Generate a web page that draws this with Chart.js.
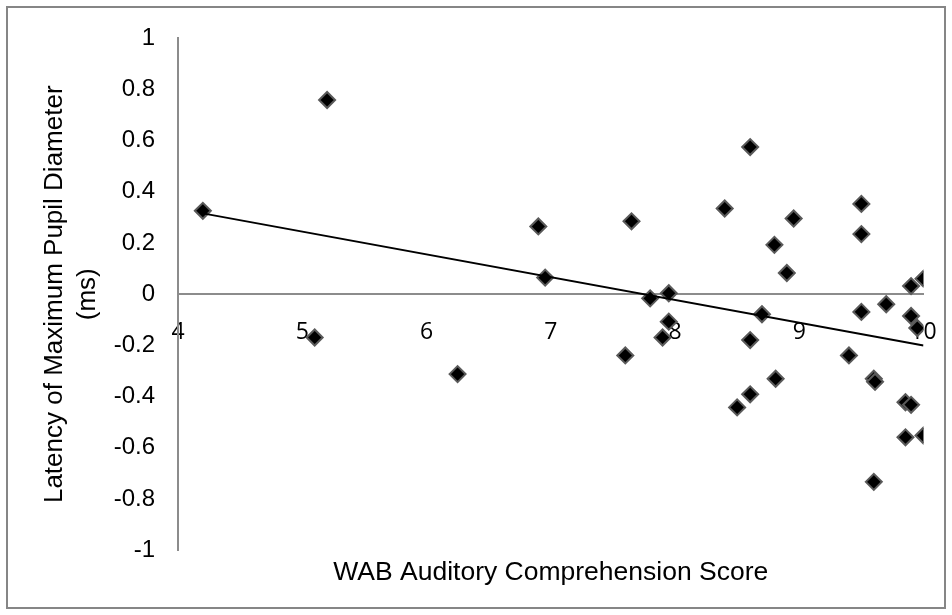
<!DOCTYPE html>
<html>
<head>
<meta charset="utf-8">
<script src="https://cdn.jsdelivr.net/npm/chart.js@4.4.0/dist/chart.umd.min.js"></script>
<style>
  html, body { margin: 0; padding: 0; background: #fff; }
  #wrap { position: relative; width: 952px; height: 615px; }
  #frame { position: absolute; left: 6px; top: 6px; width: 940px; height: 603px; box-sizing: border-box; border: 2px solid #868686; }
  canvas { position: absolute; left: 0; top: 0; }
</style>
</head>
<body>
<div id="wrap">
  <div id="frame"></div>
  <canvas id="chart" width="952" height="615"></canvas>
</div>
<script>
// WAB score vs latency
const wabScores = [
    4.2, 5.2, 6.9, 6.955, 5.1, 6.25, 7.65, 8.605, 8.4, 8.955,
    8.8, 8.9, 9.5, 9.5, 10.0, 9.9, 7.8, 7.95, 7.95, 7.9,
    7.6, 8.7, 8.605, 8.81, 8.605, 8.5, 9.5, 9.7, 9.9, 9.95,
    9.4, 9.6, 9.61, 9.855, 9.9, 9.855, 10.0, 9.6
];
const latencies = [
    0.326, 0.759, 0.265, 0.065, -0.169, -0.312, 0.285, 0.575, 0.335, 0.296,
    0.193, 0.083, 0.353, 0.235, 0.061, 0.032, -0.016, 0.004, -0.107, -0.169,
    -0.239, -0.078, -0.179, -0.33, -0.391, -0.442, -0.069, -0.039, -0.085, -0.132,
    -0.239, -0.33, -0.342, -0.422, -0.432, -0.559, -0.552, -0.733
];

// linear trendline end points
const trendX = [4.2, 10.0];
const trendY = [0.316, -0.2];

const xTicks = [4, 5, 6, 7, 8, 9, 10];
const yTicks = [-1, -0.8, -0.6, -0.4, -0.2, 0, 0.2, 0.4, 0.6, 0.8, 1];

const xTitle = 'WAB Auditory Comprehension Score';
const yTitle = ['Latency of Maximum Pupil Diameter', '(ms)'];

const points = wabScores.map((x, i) => ({ x: x, y: latencies[i] }));
const trend = trendX.map((x, i) => ({ x: x, y: trendY[i] }));

const axisGray = '#8c8c8c';

new Chart(document.getElementById('chart'), {
    type: 'scatter',
    data: {
        datasets: [
            {
                type: 'line',
                data: trend,
                borderColor: '#000',
                borderWidth: 2,
                pointRadius: 0,
                fill: false,
                order: 0
            },
            {
                data: points,
                pointStyle: 'rectRot',
                pointRadius: 8,
                pointHoverRadius: 8,
                backgroundColor: '#000',
                borderColor: '#5a5a5a',
                borderWidth: 2,
                order: 1
            }
        ]
    },
    options: {
        responsive: false,
        devicePixelRatio: 1,
        animation: false,
        layout: { padding: { left: 0, right: 28.5, top: 38.3, bottom: 0 } },
        plugins: {
            legend: { display: false },
            tooltip: { enabled: false },
            title: {
                display: true,
                fullSize: false,
                position: 'bottom',
                text: xTitle,
                color: '#000',
                font: { family: 'Liberation Sans, Arial', size: 26.5, weight: 'normal', lineHeight: 1.2 },
                padding: { top: 7, bottom: 26 }
            }
        },
        scales: {
            x: {
                type: 'linear',
                position: { y: 0 },
                min: 4,
                max: 10,
                afterBuildTicks: (axis) => { axis.ticks = xTicks.map(v => ({ value: v })); },
                // labels hang below the zero line, they should not shrink the plot
                afterFit: (axis) => { axis.paddingLeft = 0; axis.paddingRight = 0; },
                grid: { display: false, drawTicks: false },
                border: { display: true, color: axisGray, width: 2 },
                ticks: {
                    color: '#000',
                    padding: 24,
                    maxRotation: 0,
                    font: { family: 'Open Sans', size: 23 }
                }
            },
            y: {
                type: 'linear',
                min: -1,
                max: 1,
                afterBuildTicks: (axis) => { axis.ticks = yTicks.map(v => ({ value: v })); },
                afterFit: (axis) => { axis.width = 178; },
                grid: { display: false, drawTicks: false },
                border: { display: true, color: axisGray, width: 2 },
                ticks: {
                    color: '#000',
                    padding: 23,
                    font: { family: 'Liberation Sans, Arial', size: 24 },
                    callback: (v) => String(Math.round(v * 10) / 10)
                },
                title: {
                    display: true,
                    text: yTitle,
                    color: '#000',
                    font: { family: 'Liberation Sans, Arial', size: 26, lineHeight: 1.27 },
                    padding: { top: 38, bottom: 0 }
                }
            }
        }
    }
});
</script>
</body>
</html>
